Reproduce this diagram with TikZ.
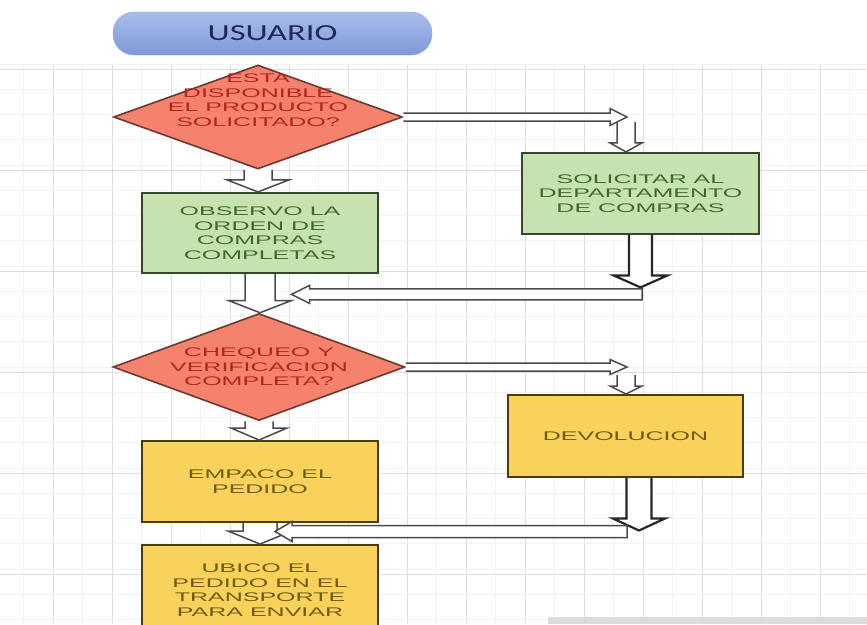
\documentclass[tikz,border=0pt]{standalone}
\usepackage{fontspec}
\usetikzlibrary{shapes.geometric,calc}
\newfontfamily\boxfont[FakeStretch=2.0]{Liberation Sans}
\newfontfamily\titlefont[FakeStretch=1.5]{Carlito}

\definecolor{titletop}{HTML}{AABDEB}
\definecolor{titlebot}{HTML}{7F98D8}
\definecolor{titletext}{HTML}{1F2A5C}
\definecolor{decfill}{HTML}{F4826C}
\definecolor{decline}{HTML}{6B3A30}
\definecolor{dectext}{HTML}{B3261E}
\definecolor{grnfill}{HTML}{C6E2B0}
\definecolor{grnline}{HTML}{34472A}
\definecolor{grntext}{HTML}{3F6B2A}
\definecolor{yelfill}{HTML}{F9D25C}
\definecolor{yelline}{HTML}{4A3C10}
\definecolor{yeltext}{HTML}{6E5A12}
\definecolor{arrline}{HTML}{4A4A4A}

% hollow block arrows: style, start, tip, shaft half width, head half width, head length
\newcommand\blockdown[6]{%
  \draw[#1] let \p1=(#2), \p2=(#3) in
    (\x1-#4pt,\y1) -- (\x1-#4pt,\y2+#6pt) -- (\x1-#5pt,\y2+#6pt) -- (\x1,\y2)
    -- (\x1+#5pt,\y2+#6pt) -- (\x1+#4pt,\y2+#6pt) -- (\x1+#4pt,\y1);}
\newcommand\blockright[6]{%
  \draw[#1] let \p1=(#2), \p2=(#3) in
    (\x1,\y1+#4pt) -- (\x2-#6pt,\y1+#4pt) -- (\x2-#6pt,\y1+#5pt) -- (\x2,\y1)
    -- (\x2-#6pt,\y1-#5pt) -- (\x2-#6pt,\y1-#4pt) -- (\x1,\y1-#4pt);}
\newcommand\blockleft[6]{%
  \draw[#1] let \p1=(#2), \p2=(#3) in
    (\x1,\y1+#4pt) -- (\x2+#6pt,\y1+#4pt) -- (\x2+#6pt,\y1+#5pt) -- (\x2,\y1)
    -- (\x2+#6pt,\y1-#5pt) -- (\x2+#6pt,\y1-#4pt) -- (\x1,\y1-#4pt) -- cycle;}

\begin{document}
\begin{tikzpicture}[x=1pt,y=-1pt,
  minorgrid/.style={draw=black!5,line width=0.7pt},
  majorgrid/.style={draw=black!13,line width=0.9pt},
  boxtext/.style={font=\boxfont\fontsize{12.5}{14.5}\selectfont,align=center,inner sep=0pt},
  decision/.style={diamond,draw=decline,line width=1.6pt,fill=decfill,inner sep=0pt},
  greenbox/.style={rectangle,draw=grnline,line width=2.2pt,fill=grnfill,inner sep=0pt,
    boxtext,text=grntext},
  yellowbox/.style={rectangle,draw=yelline,line width=2pt,fill=yelfill,inner sep=0pt,
    boxtext,text=yeltext},
  hollow/.style={draw=arrline,line width=1.5pt,fill=white,line join=miter},
  hollowbold/.style={hollow,draw=black!85,line width=2.2pt}]

\clip (0,0) rectangle (867,624);
\fill[white] (0,0) rectangle (867,624);

% sheet grid
\foreach \i in {0,...,28} {\draw[minorgrid] ({23.5+29.5*\i},64) -- ({23.5+29.5*\i},624);}
\foreach \i in {0,...,14} {\draw[majorgrid] ({53+59*\i},64) -- ({53+59*\i},624);}
\foreach \i in {0,...,22} {\draw[minorgrid] (0,{64+25.25*\i}) -- (867,{64+25.25*\i});}
\foreach \i in {0,...,5} {\draw[majorgrid] (0,{69+101*\i}) -- (867,{69+101*\i});}
\fill[black!14] (548,617) rectangle (867,624);

% title
\node[rectangle,rounded corners=21pt,minimum width=319pt,minimum height=43pt,
  top color=titletop,bottom color=titlebot,draw=titlebot!90,line width=0.4pt,
  font=\titlefont\fontsize{23}{26}\selectfont,text=titletext] (title) at (272.5,33.5) {USUARIO};

% shapes
\node[decision,minimum width=289pt,minimum height=104pt] (d1) at (258,117) {};
\node[boxtext,text=dectext] (d1t) at (258,100) {ESTA\\DISPONIBLE\\EL PRODUCTO\\SOLICITADO?};
\node[greenbox,minimum width=236pt,minimum height=80pt] (g1) at (260,233)
  {OBSERVO LA\\ORDEN DE\\COMPRAS\\COMPLETAS};
\node[greenbox,minimum width=237pt,minimum height=81pt] (g2) at (640.5,193.5)
  {SOLICITAR AL\\DEPARTAMENTO\\DE COMPRAS};
\node[decision,minimum width=292pt,minimum height=107pt] (d2) at (259,367) {};
\node[boxtext,text=dectext] (d2t) at (259,367) {CHEQUEO Y\\VERIFICACION\\COMPLETA?};
\node[yellowbox,minimum width=235pt,minimum height=82pt] (dev) at (625.5,436) {DEVOLUCION};
\node[yellowbox,minimum width=236pt,minimum height=81pt] (e) at (260,481.5)
  {EMPACO EL\\PEDIDO};
\node[yellowbox,minimum width=236pt,minimum height=90pt] (u) at (260,590)
  {UBICO EL\\PEDIDO EN EL\\TRANSPORTE\\PARA ENVIAR};

% junction points between the left-hand boxes
\coordinate (m1) at ($(g1.south)!0.5!(d2.north)$);
\coordinate (m2) at ($(e.south)!0.5!(u.north)$);

% left column
\blockdown{hollow}{d1.south}{g1.north}{14}{31}{12}
\blockdown{hollow}{g1.south}{d2.north}{15}{31}{12}
\blockdown{hollow}{d2.south}{e.north}{14}{28}{12}
\blockdown{hollow}{e.south}{u.north}{17}{32}{13}

% decision 1 to purchasing request
\blockright{hollow}{d1.east}{$(g2.north |- d1.east)+(-13.5,0)$}{4}{8.5}{17}
\blockdown{hollow}{$(g2.north |- d1.east)+(-14.5,5)$}{$(g2.north)+(-14.5,0)$}{9}{16}{9}
% purchasing request back to the left column
\blockdown{hollowbold}{g2.south}{$(g2.south |- m1)+(0,-6)$}{11.5}{27}{12}
\blockleft{hollow}{$(g2.south |- m1)+(1.5,1)$}{$(m1)+(32,1)$}{5.5}{9}{18}

% decision 2 to return
\blockright{hollow}{d2.east}{$(dev.north |- d2.east)+(1.5,0)$}{4}{7.5}{17}
\blockdown{hollow}{$(dev.north |- d2.east)+(0.5,8)$}{$(dev.north)+(0.5,0)$}{9}{16}{8}
% return back to the left column
\blockdown{hollowbold}{$(dev.south)+(13.5,0)$}{$(dev.south |- m2)+(13.5,-3)$}{12.5}{26}{12}
\blockleft{hollow}{$(dev.south |- m2)+(1.5,-2)$}{$(m2)+(15,-2)$}{6}{10}{17}
\end{tikzpicture}
\end{document}
